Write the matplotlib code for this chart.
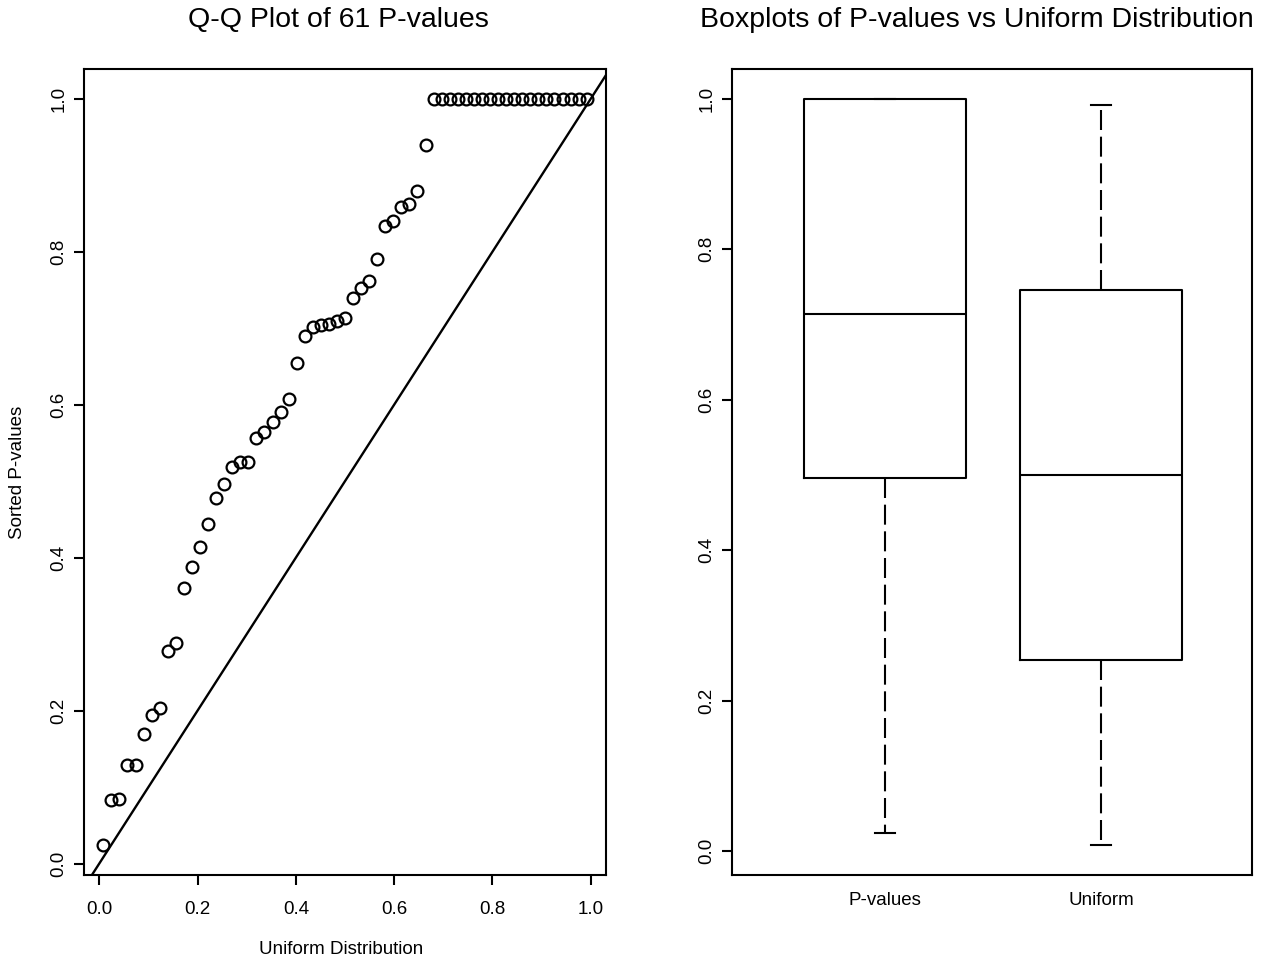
import numpy as np
import matplotlib
matplotlib.use("Agg")
import matplotlib.pyplot as plt

plt.rcParams['font.family'] = ['Liberation Sans', 'DejaVu Sans']

# theoretical uniform quantiles for n = 61 (ppoints)
uniform_q = [0.0082, 0.0246, 0.0410, 0.0574, 0.0738, 0.0902, 0.1066, 0.1230, 0.1393, 0.1557,
             0.1721, 0.1885, 0.2049, 0.2213, 0.2377, 0.2541, 0.2705, 0.2869, 0.3033, 0.3197,
             0.3361, 0.3525, 0.3689, 0.3852, 0.4016, 0.4180, 0.4344, 0.4508, 0.4672, 0.4836,
             0.5000, 0.5164, 0.5328, 0.5492, 0.5656, 0.5820, 0.5984, 0.6148, 0.6311, 0.6475,
             0.6639, 0.6803, 0.6967, 0.7131, 0.7295, 0.7459, 0.7623, 0.7787, 0.7951, 0.8115,
             0.8279, 0.8443, 0.8607, 0.8770, 0.8934, 0.9098, 0.9262, 0.9426, 0.9590, 0.9754,
             0.9918]

# sorted p-values
pvals = [0.024, 0.083, 0.085, 0.129, 0.129, 0.170, 0.194, 0.203, 0.278, 0.289,
         0.360, 0.388, 0.414, 0.444, 0.478, 0.496, 0.519, 0.525, 0.525, 0.557,
         0.564, 0.577, 0.590, 0.607, 0.655, 0.690, 0.701, 0.704, 0.705, 0.710,
         0.714, 0.740, 0.753, 0.762, 0.791, 0.834, 0.840, 0.859, 0.863, 0.880,
         0.940, 1.0, 1.0, 1.0, 1.0, 1.0, 1.0, 1.0, 1.0, 1.0,
         1.0, 1.0, 1.0, 1.0, 1.0, 1.0, 1.0, 1.0, 1.0, 1.0, 1.0]

box_labels = ['P-values', 'Uniform']

W, H = 1269, 961
fig = plt.figure(figsize=(W / 100, H / 100), dpi=100)

def px_axes(x0, y0, x1, y1):
    return fig.add_axes([x0 / W, 1 - y1 / H, (x1 - x0) / W, (y1 - y0) / H])

LW = 1.5
TICK_FS = 13.5
LAB_FS = 13.5
TITLE_FS = 20.5

# ---- Q-Q plot ----
ax1 = px_axes(84, 69, 606, 875)
ax1.plot(uniform_q, pvals, 'o', mfc='none', mec='black', ms=8.5, mew=1.6)
ax1.axline((0, 0), slope=1, color='black', lw=LW + 0.2)
ax1.set_xlim(-0.0311, 1.0311)
ax1.set_ylim(-0.0150, 1.0390)
ax1.set_xticks([0, 0.2, 0.4, 0.6, 0.8, 1.0])
ax1.set_yticks([0, 0.2, 0.4, 0.6, 0.8, 1.0])
ax1.xaxis.set_major_formatter(matplotlib.ticker.FormatStrFormatter('%.1f'))
ax1.yaxis.set_major_formatter(matplotlib.ticker.FormatStrFormatter('%.1f'))
ax1.tick_params(axis='both', length=7, width=LW, labelsize=TICK_FS, direction='out')
ax1.tick_params(axis='x', pad=12)
ax1.tick_params(axis='y', pad=5)
for lab in ax1.get_yticklabels():
    lab.set_rotation(90)
    lab.set_va('center')
ax1.set_xlabel('Uniform Distribution', fontsize=LAB_FS)
ax1.set_ylabel('Sorted P-values', fontsize=LAB_FS)
ax1.xaxis.set_label_coords((341 - 84) / 522, -(949 - 875) / 806)
ax1.xaxis.label.set_va('center')
ax1.yaxis.set_label_coords(-(84 - 18) / 522, 0.5)
ax1.yaxis.label.set_va('center')
for s in ax1.spines.values():
    s.set_linewidth(LW)

# ---- Boxplots ----
ax2 = px_axes(732, 69, 1252, 875)
ax2.boxplot([pvals, uniform_q], positions=[1, 2], widths=0.748, capwidths=0.093,
            boxprops=dict(color='black', lw=LW),
            whiskerprops=dict(color='black', lw=LW, linestyle=(0, (9.6, 3.2))),
            capprops=dict(color='black', lw=LW),
            medianprops=dict(color='black', lw=LW),
            flierprops=dict(marker='o', mfc='none', mec='black'))
ax2.set_xlim(0.29, 2.70)
ax2.set_ylim(-0.0315, 1.0397)
ax2.set_xticks([1, 2])
ax2.set_xticklabels(box_labels)
ax2.set_yticks([0, 0.2, 0.4, 0.6, 0.8, 1.0])
ax2.yaxis.set_major_formatter(matplotlib.ticker.FormatStrFormatter('%.1f'))
ax2.tick_params(axis='both', width=LW, labelsize=TICK_FS, direction='out')
ax2.tick_params(axis='x', length=0, pad=12)
ax2.tick_params(axis='y', length=7, pad=5)
for lab in ax2.get_yticklabels():
    lab.set_rotation(90)
    lab.set_va('center')
for s in ax2.spines.values():
    s.set_linewidth(LW)

fig.text(338 / W, 1 - 20 / H, 'Q-Q Plot of 61 P-values', fontsize=TITLE_FS,
         ha='center', va='center')
fig.text(977 / W, 1 - 20 / H, 'Boxplots of P-values vs Uniform Distribution',
         fontsize=TITLE_FS, ha='center', va='center')

fig.savefig('out.png', dpi=100)
